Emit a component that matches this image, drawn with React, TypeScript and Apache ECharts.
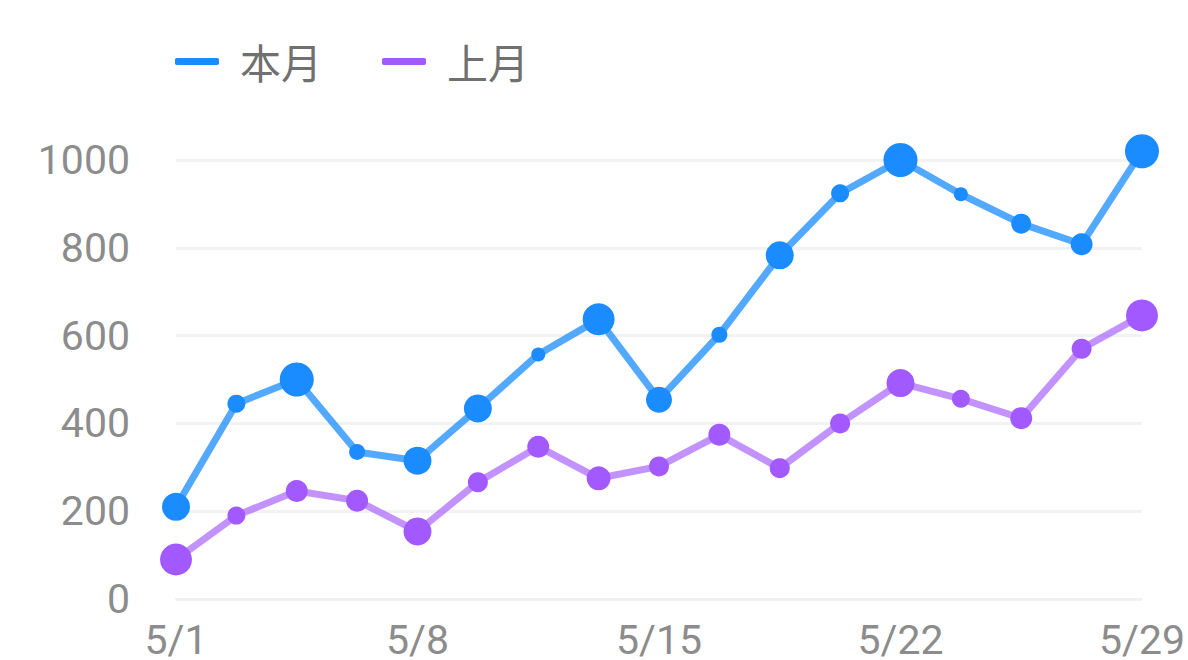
import React, { useEffect, useRef } from "react";
import * as echarts from "echarts";

const categories = [
  "5/1", "5/3", "5/4", "5/6", "5/8", "5/10", "5/11", "5/13", "5/15",
  "5/17", "5/18", "5/20", "5/22", "5/24", "5/25", "5/27", "5/29",
];
const thisMonth = [210, 445, 500, 335, 315, 434, 557, 637, 454, 602, 783, 924, 1000, 922, 855, 808, 1020];
const lastMonth = [90, 190, 246, 224, 154, 266, 347, 275, 302, 374, 298, 400, 492, 456, 412, 570, 646];
const yTicks = [0, 200, 400, 600, 800, 1000];
const seriesNames = ["本月", "上月"];

// marker sizes (style only)
const blueSizes = [28, 18, 34, 16, 28, 28, 14, 32, 26, 16, 28, 18, 34, 14, 20, 22, 34];
const purpleSizes = [32, 18, 22, 22, 28, 20, 22, 24, 20, 22, 20, 20, 28, 18, 22, 20, 32];

const BLUE = "#1a8cff";
const PURPLE = "#a259ff";

export default function App() {
  const ref = useRef<HTMLDivElement>(null);
  useEffect(() => {
    if (!ref.current) return;
    const chart = echarts.init(ref.current, null, { renderer: "svg" });
    chart.setOption({
      animation: false,
      backgroundColor: "#ffffff",
      legend: {
        top: 36,
        left: 170,
        itemWidth: 44,
        itemHeight: 7,
        itemGap: 60,
        icon: "roundRect",
        textStyle: {
          fontSize: 41,
          color: "#707070",
          fontFamily: "Noto Sans CJK SC",
          padding: [0, 0, 0, 16],
        },
        data: seriesNames,
      },
      grid: { left: 176, right: 42, top: 160, bottom: 53 },
      xAxis: {
        type: "category",
        data: categories,
        boundaryGap: false,
        axisLine: { show: true, lineStyle: { color: "#f0f0f0", width: 2 } },
        axisTick: { show: false },
        axisLabel: {
          interval: 3,
          fontSize: 41,
          color: "#8c8c8c",
          margin: 20,
          fontFamily: "Roboto",
        },
        splitLine: { show: false },
      },
      yAxis: {
        type: "value",
        min: yTicks[0],
        max: yTicks[yTicks.length - 1],
        interval: 200,
        axisLine: { show: false },
        axisTick: { show: false },
        axisLabel: {
          fontSize: 41,
          color: "#8c8c8c",
          margin: 46,
          fontFamily: "Roboto",
          formatter: (v: number) => String(v),
        },
        splitLine: { lineStyle: { color: "#f2f2f2", width: 3 } },
      },
      series: [
        {
          name: seriesNames[0],
          type: "line",
          data: thisMonth,
          clip: false,
          symbol: "circle",
          showAllSymbol: true,
          symbolSize: (_v: any, p: any) => blueSizes[p.dataIndex],
          itemStyle: { color: BLUE },
          lineStyle: { color: BLUE, width: 7, opacity: 0.75 },
          z: 3,
        },
        {
          name: seriesNames[1],
          type: "line",
          data: lastMonth,
          clip: false,
          symbol: "circle",
          showAllSymbol: true,
          symbolSize: (_v: any, p: any) => purpleSizes[p.dataIndex],
          itemStyle: { color: PURPLE },
          lineStyle: { color: PURPLE, width: 7, opacity: 0.65 },
          z: 2,
        },
      ],
    });
    return () => chart.dispose();
  }, []);
  return (
    <div
      ref={ref}
      style={{ position: "fixed", left: 0, top: 0, width: 1188, height: 660 }}
    />
  );
}
